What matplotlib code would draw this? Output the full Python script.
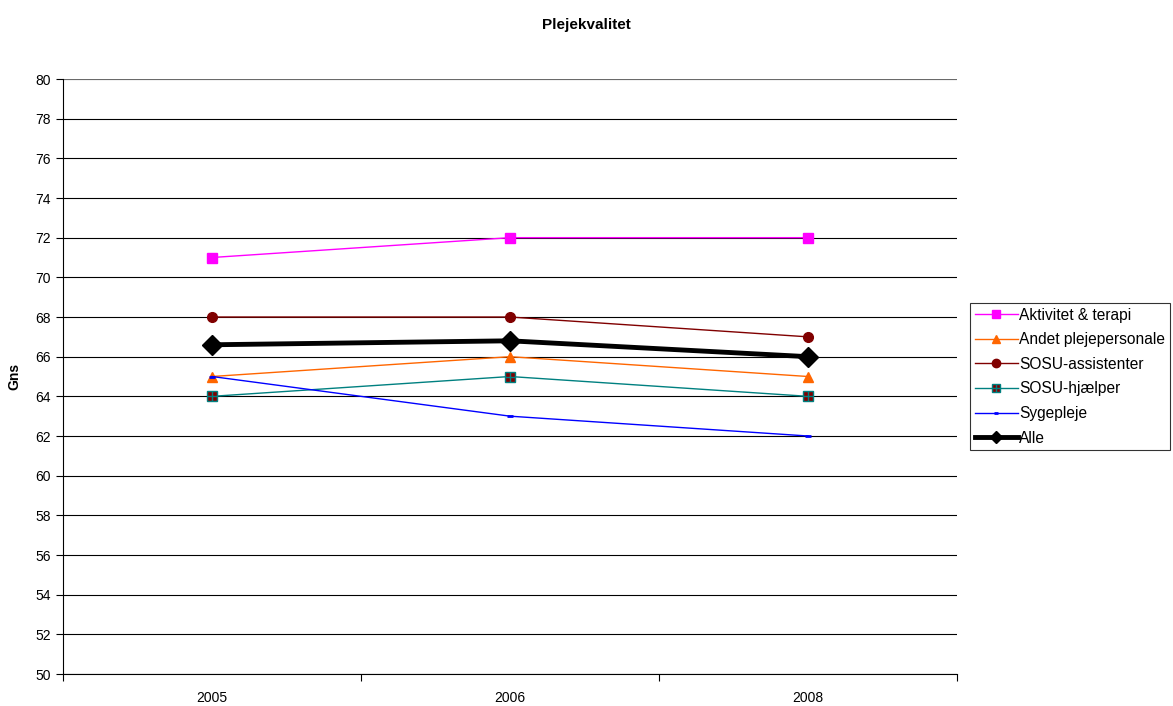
import numpy as np
import matplotlib.pyplot as plt
from matplotlib.lines import Line2D

plt.rcParams['font.family'] = ['Liberation Sans', 'DejaVu Sans']

years = ["2005", "2006", "2008"]
aktivitet = [71, 72, 72]
andet = [65, 66, 65]
sosu_assistenter = [68, 68, 67]
sosu_hjaelper = [64, 65, 64]
sygepleje = [65, 63, 62]
alle = [66.6, 66.8, 66.0]

x = np.arange(len(years))

fig = plt.figure(figsize=(11.73, 7.06), dpi=100)
ax = fig.add_axes([0.0537, 0.0453, 0.7621, 0.8428])

ax.plot(x, aktivitet, color="#FF00FF", lw=1, marker="s", ms=7, mfc="#FF00FF", mec="#FF00FF", zorder=3)
ax.plot(x, andet, color="#FF6600", lw=1, marker="^", ms=7, mfc="#FF6600", mec="#FF6600", zorder=3)
ax.plot(x, sosu_assistenter, color="#800000", lw=1, marker="o", ms=7, mfc="#800000", mec="#800000", zorder=3)
ax.plot(x, sosu_hjaelper, color="#008080", lw=1, marker="s", ms=7, mfc="#800000", mec="#008080",
        mew=1, zorder=3)
ax.plot(x, sosu_hjaelper, ls="none", marker="+", ms=7, mec="#008080", mew=1, zorder=4)
ax.plot(x, sygepleje, color="#0000FF", lw=1, marker="_", ms=4, mew=2, mec="#0000FF", zorder=3)
ax.plot(x, alle, color="black", lw=3.5, marker="D", ms=10, mfc="black", mec="black", zorder=5)

ax.set_xlim(-0.5, 2.5)
ax.set_ylim(50, 80)
ax.set_yticks(np.arange(50, 81, 2))
ax.set_xticks(x)
ax.set_xticklabels(years)
ax.set_xticks([-0.5, 0.5, 1.5, 2.5], minor=True)
ax.tick_params(axis="x", which="major", length=0, pad=12, labelsize=10)
ax.tick_params(axis="x", which="minor", length=5, width=0.8, direction="out")
ax.tick_params(axis="y", length=5, width=0.8, direction="out", labelsize=10)

ax.grid(axis="y", color="black", lw=0.8)
ax.set_axisbelow(True)
for side in ["top", "right"]:
    ax.spines[side].set_visible(False)
ax.spines["left"].set_linewidth(0.8)
ax.spines["bottom"].set_linewidth(0.8)
ax.axhline(80, color="#808080", lw=1.2, zorder=1)

ax.set_ylabel("Gns", fontsize=10, fontweight="bold", labelpad=10)
fig.suptitle("Plejekvalitet", fontsize=11, fontweight="bold", y=0.975)

# legend keys with smaller markers than the plotted points
handles = [
    Line2D([], [], color="#FF00FF", lw=1, marker="s", ms=6, mfc="#FF00FF", mec="#FF00FF"),
    Line2D([], [], color="#FF6600", lw=1, marker="^", ms=6, mfc="#FF6600", mec="#FF6600"),
    Line2D([], [], color="#800000", lw=1, marker="o", ms=6, mfc="#800000", mec="#800000"),
    (Line2D([], [], color="#008080", lw=1, marker="s", ms=6, mfc="#800000", mec="#008080"),
     Line2D([], [], ls="none", marker="+", ms=6, mec="#008080", mew=1)),
    Line2D([], [], color="#0000FF", lw=1, marker="_", ms=3, mew=2, mec="#0000FF"),
    Line2D([], [], color="black", lw=3.5, marker="D", ms=6, mfc="black", mec="black"),
]
labels = ["Aktivitet & terapi", "Andet plejepersonale", "SOSU-assistenter",
          "SOSU-hjælper", "Sygepleje", "Alle"]
leg = fig.legend(handles, labels, loc="upper left", bbox_to_anchor=(0.827, 0.571),
                 fontsize=11.2, frameon=True, fancybox=False, edgecolor="black",
                 handlelength=2.75, handletextpad=0.12, borderpad=0.3, labelspacing=0.62,
                 borderaxespad=0)
leg.get_frame().set_linewidth(0.8)

fig.savefig("out.png", dpi=100)
